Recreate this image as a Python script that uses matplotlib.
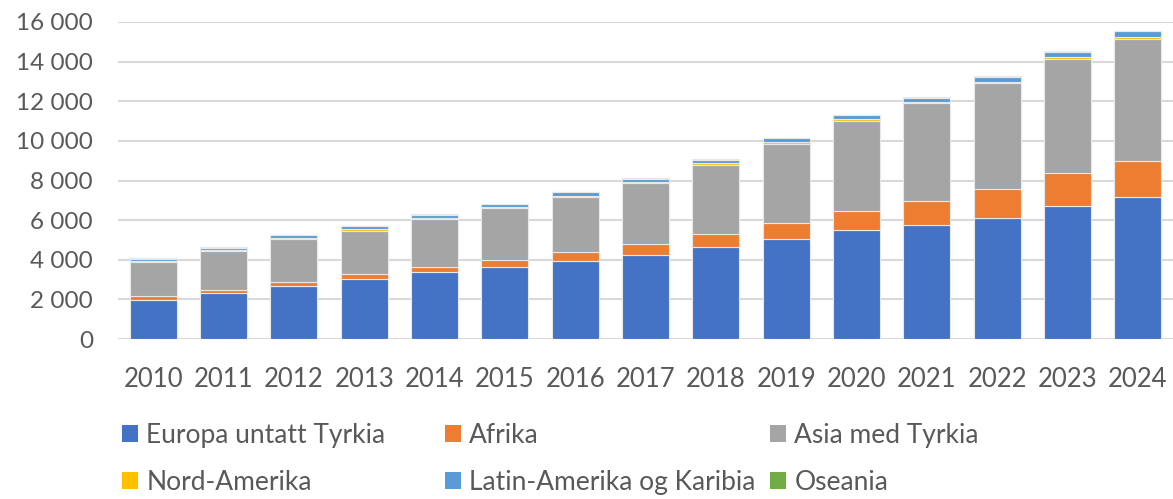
import matplotlib
matplotlib.use("Agg")
from matplotlib import pyplot as plt
from matplotlib.patches import Patch
from matplotlib.ticker import FuncFormatter
import numpy as np

years = ['2010', '2011', '2012', '2013', '2014', '2015', '2016', '2017',
         '2018', '2019', '2020', '2021', '2022', '2023', '2024']

europa = [1990, 2300, 2690, 3010, 3380, 3650, 3920, 4230, 4630, 5030, 5480, 5770, 6120, 6730, 7150]
afrika = [160, 175, 200, 255, 270, 340, 460, 550, 660, 810, 1000, 1180, 1430, 1630, 1815]
asia = [1720, 1955, 2140, 2205, 2410, 2610, 2810, 3080, 3510, 4020, 4540, 4940, 5350, 5790, 6175]
nord_amerika = [50, 50, 50, 70, 60, 50, 40, 60, 60, 70, 70, 60, 80, 70, 80]
latin_amerika = [130, 130, 150, 150, 150, 150, 180, 170, 190, 190, 200, 230, 240, 280, 320]
oseania = [20, 20, 20, 20, 20, 30, 30, 30, 30, 30, 30, 30, 30, 30, 30]

labels = ['Europa untatt Tyrkia', 'Afrika', 'Asia med Tyrkia',
          'Nord-Amerika', 'Latin-Amerika og Karibia', 'Oseania']
colors = ['#4472C4', '#ED7D31', '#A5A5A5', '#FFC000', '#5B9BD5', '#70AD47']
series = [europa, afrika, asia, nord_amerika, latin_amerika, oseania]

plt.rcParams['font.family'] = ['Lato', 'DejaVu Sans']
txt = '#595959'

fig = plt.figure(figsize=(11.73, 4.99), dpi=100)
ax = fig.add_axes([118 / 1173, (499 - 339) / 499, 1 - 118 / 1173, (339 - 22) / 499])

x = np.arange(len(years))
bottom = np.zeros(len(years))
for vals, c, lab in zip(series, colors, labels):
    ax.bar(x, vals, bottom=bottom, width=0.67, color=c, edgecolor='#e8e8e8',
           linewidth=0.8, label=lab, zorder=3)
    bottom += np.array(vals)

ax.set_xlim(-0.5, len(years) - 0.5)
ax.set_ylim(0, 16000)
ax.set_yticks(range(0, 16001, 2000))
ax.yaxis.set_major_formatter(FuncFormatter(lambda v, p: f"{int(v):,}".replace(",", " ")))
ax.set_xticks(x)
ax.set_xticklabels(years)
ax.grid(axis='y', color='#D9D9D9', linewidth=1.5, zorder=0)
for s in ax.spines.values():
    s.set_visible(False)
ax.tick_params(axis='both', length=0, labelcolor=txt)
ax.tick_params(axis='y', pad=18, labelsize=17.5)
ax.tick_params(axis='x', pad=20, labelsize=18.5)

# legend laid out in fixed columns like the original
handles = [Patch(facecolor=c, edgecolor='none') for c in colors]
col_x = [122, 445, 770]
groups = [[0, 3], [1, 4], [2, 5]]
for cx, g in zip(col_x, groups):
    fig.legend([handles[i] for i in g], [labels[i] for i in g],
               loc='upper left', bbox_to_anchor=(cx / 1173, 0.152),
               frameon=False, fontsize=19, labelcolor=txt, borderpad=0,
               borderaxespad=0, handlelength=0.62, handleheight=0.62,
               handletextpad=0.3, labelspacing=0.82)

fig.savefig('out.png', dpi=100)
